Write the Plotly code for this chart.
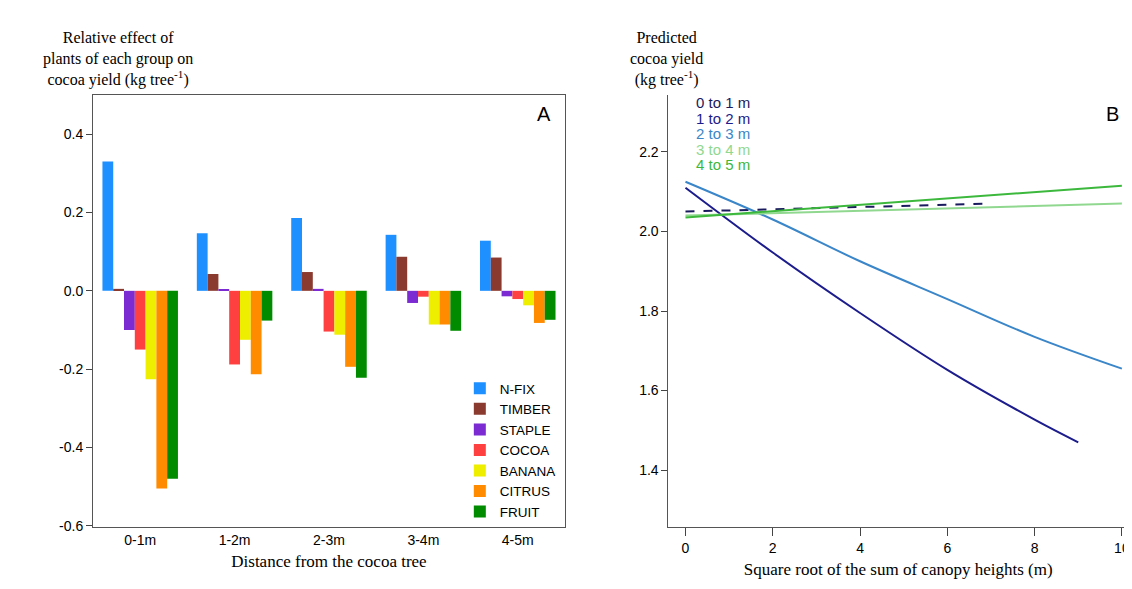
import plotly.graph_objects as go

categories = ["0-1m", "1-2m", "2-3m", "3-4m", "4-5m"]
groups = ["N-FIX", "TIMBER", "STAPLE", "COCOA", "BANANA", "CITRUS", "FRUIT"]
colors = ["#1E90FF", "#8B3A2F", "#7B2BD1", "#FF4040", "#EEEE00", "#FF8C00", "#008B00"]
values = {
    "N-FIX":  [0.330, 0.147, 0.186, 0.143, 0.128],
    "TIMBER": [0.005, 0.043, 0.048, 0.087, 0.085],
    "STAPLE": [-0.100, 0.003, 0.005, -0.031, -0.014],
    "COCOA":  [-0.150, -0.188, -0.104, -0.015, -0.021],
    "BANANA": [-0.226, -0.125, -0.112, -0.086, -0.037],
    "CITRUS": [-0.505, -0.213, -0.194, -0.086, -0.082],
    "FRUIT":  [-0.480, -0.076, -0.222, -0.102, -0.074],
}

line_names = ["0 to 1 m", "1 to 2 m", "2 to 3 m", "3 to 4 m", "4 to 5 m"]
line_colors = ["#1A1A5E", "#1C1C8C", "#3A86C8", "#90D890", "#3CB83C"]
line_x = {
    "0 to 1 m": [0, 7],
    "1 to 2 m": [0, 2, 4, 6, 8, 9],
    "2 to 3 m": [0, 2, 4, 6, 8, 10],
    "3 to 4 m": [0, 10],
    "4 to 5 m": [0, 10],
}
line_y = {
    "0 to 1 m": [2.050, 2.070],
    "1 to 2 m": [2.110, 1.947, 1.795, 1.652, 1.527, 1.470],
    "2 to 3 m": [2.125, 2.030, 1.925, 1.830, 1.735, 1.655],
    "3 to 4 m": [2.040, 2.070],
    "4 to 5 m": [2.035, 2.115],
}

fig = go.Figure()
for g, c in zip(groups, colors):
    fig.add_trace(go.Bar(x=categories, y=values[g], name=g, marker_color=c,
                         marker_line_width=0, xaxis="x", yaxis="y"))

for n, c in zip(line_names, line_colors):
    fig.add_trace(go.Scatter(x=line_x[n], y=line_y[n], mode="lines", showlegend=False,
                             line=dict(color=c, width=2, dash="dash" if n == "0 to 1 m" else "solid",
                                       shape="spline"),
                             xaxis="x2", yaxis="y2"))

serif = "Liberation Serif"
annotations = [
    dict(text="Relative effect of<br>plants of each group on<br>cocoa yield (kg tree<sup>-1</sup>)",
         xref="paper", yref="paper", x=0.024, y=1.0, yshift=4, xanchor="center", yanchor="bottom",
         showarrow=False, font=dict(family=serif, size=16, color="black")),
    dict(text="Predicted<br>cocoa yield<br>(kg tree<sup>-1</sup>)",
         xref="paper", yref="paper", x=0.554, y=1.0, yshift=4, xanchor="center", yanchor="bottom",
         showarrow=False, font=dict(family=serif, size=16, color="black")),
    dict(text="A", xref="x domain", yref="y domain", x=0.975, y=0.985, xanchor="right", yanchor="top",
         showarrow=False, font=dict(family="Liberation Sans", size=20, color="black")),
    dict(text="B", xref="x2 domain", yref="y2 domain", x=0.985, y=0.985, xanchor="right", yanchor="top",
         showarrow=False, font=dict(family="Liberation Sans", size=20, color="black")),
]
for i, (n, c) in enumerate(zip(line_names, line_colors)):
    annotations.append(dict(text=n, x=0.055, xref="x2 domain", y=1.0 - i * 0.036, yshift=3, yref="y2 domain",
                            showarrow=False, xanchor="left", yanchor="top",
                            font=dict(color=c, size=15, family="Liberation Sans")))

fig.update_layout(
    width=1132, height=589,
    paper_bgcolor="white", plot_bgcolor="white",
    margin=dict(l=85, r=10, t=87, b=70),
    barmode="group", bargap=0.2, bargroupgap=0,
    showlegend=True,
    legend=dict(x=0.452, y=0.0, xref="paper", xanchor="right", yanchor="bottom",
                font=dict(family="Liberation Sans", size=13.5, color="black"),
                bgcolor="rgba(0,0,0,0)", tracegroupgap=0),
    xaxis=dict(domain=[0, 0.456], showline=True, mirror=True, linecolor="#555", ticks="",
               tickfont=dict(family="Liberation Sans", size=14, color="black"),
               title=dict(text="Distance from the cocoa tree", font=dict(family=serif, size=17, color="black"), standoff=8)),
    yaxis=dict(range=[-0.603, 0.5], showline=True, mirror=True, linecolor="#555", ticks="outside",
               tickvals=[0.4, 0.2, 0.0, -0.2, -0.4, -0.6], ticktext=["0.4", "0.2", "0.0", "-0.2", "-0.4", "-0.6"],
               ticklen=6, showgrid=False, zeroline=False,
               tickfont=dict(family="Liberation Sans", size=14, color="black")),
    xaxis2=dict(domain=[0.556, 1.0], anchor="y2", range=[-0.39, 10.14], showline=True, linecolor="#555",
                ticks="outside", ticklen=8, tickvals=[0, 2, 4, 6, 8, 10], showgrid=False, zeroline=False,
                tickfont=dict(family="Liberation Sans", size=14, color="black"),
                title=dict(text="Square root of the sum of canopy heights (m)", font=dict(family=serif, size=17, color="black"), standoff=8)),
    yaxis2=dict(domain=[0, 1], anchor="x2", range=[1.257, 2.343], showline=True, linecolor="#555",
                ticks="outside", ticklen=6, tickvals=[1.4, 1.6, 1.8, 2.0, 2.2],
                ticktext=["1.4", "1.6", "1.8", "2.0", "2.2"], showgrid=False, zeroline=False,
                tickfont=dict(family="Liberation Sans", size=14, color="black")),
    annotations=annotations,
)
fig.write_html("out.html")
